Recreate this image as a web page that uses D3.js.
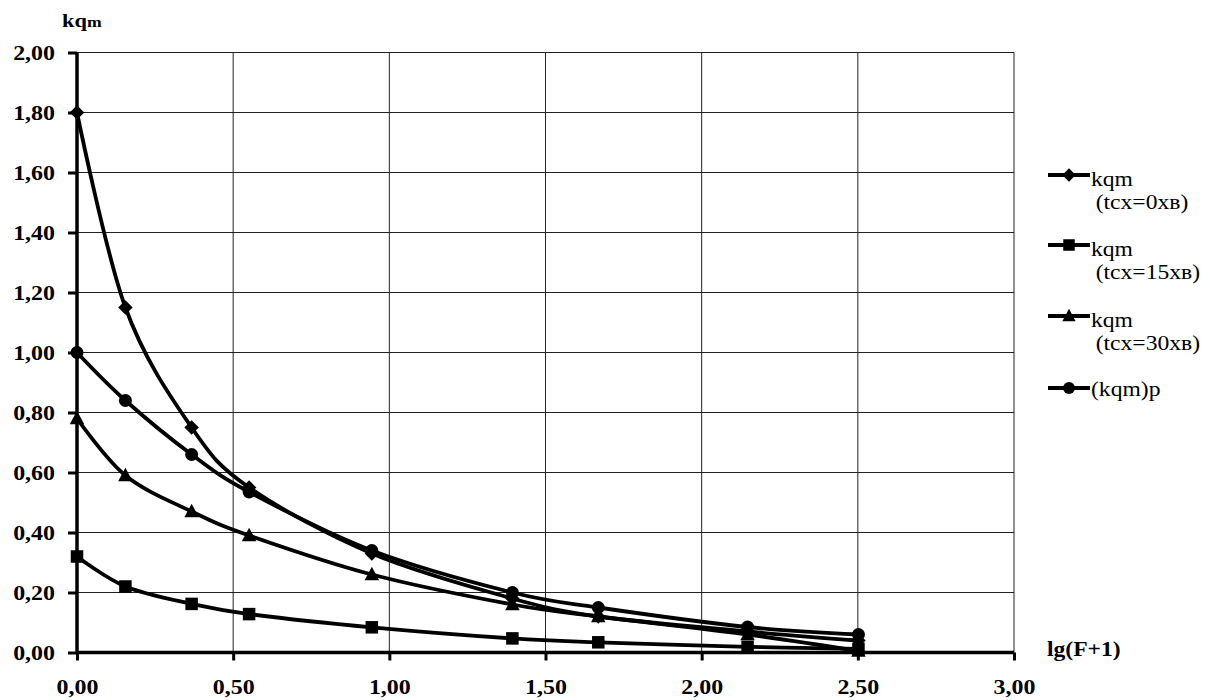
<!DOCTYPE html>
<html><head><meta charset="utf-8">
<script src="https://cdn.jsdelivr.net/npm/d3@7"></script>
<style>
html,body{margin:0;padding:0;background:#fff;}
svg{display:block;}
</style></head>
<body><svg id="chart" width="1210" height="700"></svg>
<script>
const xValues = [0, 0.155, 0.367, 0.551, 0.944, 1.394, 1.669, 2.147, 2.502];
const seriesNames = ["kqm|(tcx=0хв)", "kqm|(tcx=15хв)", "kqm|(tcx=30хв)", "(kqm)p"];
const series0 = [1.80, 1.15, 0.75, 0.55, 0.33, 0.18, 0.12, 0.07, 0.04];
const series15 = [0.32, 0.22, 0.162, 0.128, 0.084, 0.047, 0.034, 0.019, 0.012];
const series30 = [0.78, 0.59, 0.47, 0.39, 0.26, 0.16, 0.12, 0.06, 0.005];
const seriesP = [1.00, 0.84, 0.66, 0.535, 0.34, 0.20, 0.15, 0.085, 0.06];
const markers = ["diamond", "square", "triangle", "circle"];
const xTicks = [0, 0.5, 1, 1.5, 2, 2.5, 3];
const yTicks = [0, 0.2, 0.4, 0.6, 0.8, 1.0, 1.2, 1.4, 1.6, 1.8, 2.0];

const FONT = '"Liberation Serif","Times New Roman",serif';
const SX = 1.18;
const TSX = 1.14;
const allSeries = [series0, series15, series30, seriesP];
const svg = d3.select("#chart");
const x = d3.scaleLinear().domain([0, 3]).range([77, 1014]);
const y = d3.scaleLinear().domain([0, 2]).range([652.5, 52.5]);
const fmt = v => d3.format(".2f")(v).replace(".", ",");

// grid
const g = svg.append("g");
g.selectAll(".hg").data(yTicks.slice(1)).join("line")
  .attr("x1", x(0)).attr("x2", x(3)).attr("y1", d => y(d)).attr("y2", d => y(d))
  .attr("stroke", "#222").attr("stroke-width", 1);
g.selectAll(".vg").data(xTicks.slice(1)).join("line")
  .attr("y1", y(0)).attr("y2", y(2)).attr("x1", d => x(d)).attr("x2", d => x(d))
  .attr("stroke", "#222").attr("stroke-width", 1);

// axes
const yAxis = svg.append("g").attr("transform", `translate(${x(0)},0)`)
  .call(d3.axisLeft(y).tickValues(yTicks).tickFormat(fmt).tickSize(9).tickPadding(13));
const xAxis = svg.append("g").attr("transform", `translate(0,${y(0)})`)
  .call(d3.axisBottom(x).tickValues(xTicks).tickFormat(fmt).tickSize(8).tickPadding(19));
[yAxis, xAxis].forEach(a => {
  a.select(".domain").attr("stroke", "#000").attr("stroke-width", 3.5);
  a.selectAll(".tick line").attr("stroke", "#000").attr("stroke-width", 3);
  a.selectAll(".tick text").style("font-family", FONT)
    .attr("font-size", 21).attr("font-weight", "bold").attr("fill", "#000");
});
yAxis.selectAll(".tick text").attr("x", -22 / TSX).attr("transform", `scale(${TSX},1)`);
xAxis.selectAll(".tick text").attr("transform", `scale(${TSX},1)`);
yAxis.select(".domain").attr("d", `M0,${y(2)}V${y(0)}`);
xAxis.select(".domain").attr("d", `M${x(0)},0H${x(3)}`);

// axis titles
const t1 = svg.append("text").attr("transform", `translate(62,27) scale(${SX},1)`)
  .style("font-family", FONT).attr("font-weight", "bold").attr("fill", "#000");
t1.append("tspan").attr("font-size", 19).text("kq");
t1.append("tspan").attr("font-size", 15).text("m");
svg.append("text").attr("transform", `translate(1047,656) scale(${SX},1)`)
  .style("font-family", FONT).attr("font-weight", "bold").attr("fill", "#000")
  .attr("font-size", 20).text("lg(F+1)");

// marker drawing
function drawMarker(sel, type, s) {
  if (type === "circle") sel.append("circle").attr("r", s * 0.52);
  else if (type === "square") sel.append("rect").attr("x", -s/2).attr("y", -s/2).attr("width", s).attr("height", s);
  else if (type === "diamond") sel.append("path").attr("d", `M0,${-s*0.58}L${s*0.58},0L0,${s*0.58}L${-s*0.58},0Z`);
  else sel.append("path").attr("d", `M0,${-s*0.62}L${s*0.58},${s*0.45}L${-s*0.58},${s*0.45}Z`);
}

const line = d3.line().x((d, i) => x(xValues[i])).y(d => y(d)).curve(d3.curveCardinal.tension(0));
const order = [1, 2, 0, 3];
order.forEach(k => {
  const vals = allSeries[k];
  svg.append("path").datum(vals).attr("d", line)
    .attr("fill", "none").attr("stroke", "#000").attr("stroke-width", 3.8)
    .attr("stroke-linejoin", "round");
  vals.forEach((v, i) => {
    const m = svg.append("g").attr("transform", `translate(${x(xValues[i])},${y(v)})`).attr("fill", "#000");
    drawMarker(m, markers[k], 12.5);
  });
});

// legend
const legY = [175, 245, 316, 388];
seriesNames.forEach((name, k) => {
  const lg = svg.append("g").attr("transform", `translate(0,${legY[k]})`);
  lg.append("line").attr("x1", 1048).attr("x2", 1090).attr("y1", 0).attr("y2", 0)
    .attr("stroke", "#000").attr("stroke-width", 3.8);
  const m = lg.append("g").attr("transform", "translate(1069,0)").attr("fill", "#000");
  drawMarker(m, markers[k], 11.5);
  const parts = name.split("|");
  const tx = lg.append("text").style("font-family", FONT).attr("font-size", 20).attr("fill", "#000")
    .attr("transform", `translate(1091,${parts.length > 1 ? 11 : 8}) scale(${SX},1)`);
  parts.forEach((p, j) => tx.append("tspan").attr("x", j === 0 ? 0 : 4).attr("dy", j === 0 ? 0 : 23).text(p));
});
</script></body></html>
